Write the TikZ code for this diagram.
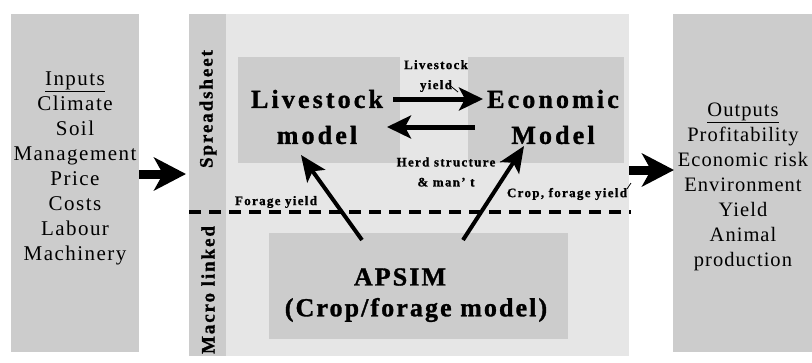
\documentclass[tikz,border=0pt]{standalone}
\usepackage{fontspec}
\setmainfont{Liberation Serif}
\newfontfamily\regsp[LetterSpace=7]{Liberation Serif}
\newfontfamily\regout[LetterSpace=5]{Liberation Serif}
\newfontfamily\boldsp[LetterSpace=12, FakeBold=1.2]{Liberation Serif Bold}
\newfontfamily\boldmid[LetterSpace=8, FakeBold=1.2]{Liberation Serif Bold}
\newfontfamily\boldsm[LetterSpace=10, FakeBold=1]{Liberation Serif Bold}
\usetikzlibrary{arrows.meta}
\definecolor{boxgray}{HTML}{CCCCCC}
\definecolor{panelgray}{HTML}{E6E6E6}
\tikzset{
  panel/.style={fill=panelgray, draw=none, inner sep=0pt, outer sep=0pt},
  greybox/.style={fill=boxgray, draw=none, inner sep=0pt, outer sep=0pt},
  listtext/.style={align=center, font=\regsp\fontsize{21}{25}\selectfont, inner sep=0pt},
  outtext/.style={align=center, font=\regout\fontsize{20.5}{25}\selectfont, inner sep=0pt},
  bigtext/.style={align=center, font=\boldsp\fontsize{26}{36}\selectfont, inner sep=0pt},
  apsimtext/.style={font=\boldmid\fontsize{26}{33}\selectfont, inner sep=0pt},
  smalltext/.style={align=center, font=\boldsm\fontsize{13}{20}\selectfont, inner sep=0pt},
  striptext/.style={font=\boldsm\fontsize{19}{22}\selectfont, inner sep=0pt, rotate=90},
  bigarrow/.style={line width=9pt, -{Stealth[length=32pt, width=33pt, inset=9pt]}},
  midarrow/.style={line width=5pt, -{Stealth[length=24pt, width=23pt, inset=6pt]}},
  diagarrow/.style={line width=4pt, -{Stealth[length=26pt, width=22pt, inset=6pt]}},
  leader/.style={line width=0.8pt},
}
\begin{document}
\begin{tikzpicture}[x=1pt, y=-1pt]
\useasboundingbox (0,0) rectangle (812,362);
\fill[white] (0,0) rectangle (812,362);
% side boxes
\node[greybox, minimum width=128pt, minimum height=338pt] (inbox) at (75,183) {};
\node[greybox, minimum width=139pt, minimum height=338pt] (outbox) at (742.5,183) {};
% middle panel
\node[panel, minimum width=440pt, minimum height=342pt] (mid) at (409,185) {};
\node[greybox, minimum width=37pt, minimum height=342pt] (strip) at (207.5,185) {};
% inner boxes
\node[greybox, minimum width=162pt, minimum height=106pt] (lbox) at (319,110) {};
\node[greybox, minimum width=156pt, minimum height=106pt] (ebox) at (546,110) {};
\node[greybox, minimum width=299pt, minimum height=106pt] (abox) at (418.5,286) {};
% strip text
\node[striptext] (ss) at (208,109) {Spreadsheet};
\node[striptext] (ml) at (208,290) {Macro linked};
% dashed separator
\coordinate (dl) at (189,212);
\coordinate (dr) at (631,212);
\draw[line width=4pt, dash pattern=on 12pt off 8pt] (dl) -- (dr);
% list texts
\node[listtext] (intext) at (75,168.5) {\underline{Inputs}\\Climate\\Soil\\Management\\Price\\Costs\\Labour\\Machinery};
\node[outtext] (outtext) at (743,187) {\underline{Outputs}\\Profitability\\Economic risk\\Environment\\Yield\\Animal\\production};
% model labels
\node[bigtext] (lt) at (317,117) {Livestock\\model};
\node[bigtext] (et) at (553,117) {Economic\\Model};
\node[apsimtext] (ap1) at (400,277) {APSIM};
\node[apsimtext] (ap2) at (416,310) {(Crop/forage model)};
% small labels
\node[smalltext] (ly) at (436,76) {Livestock\\yield};
\node[smalltext] (hs) at (446,172) {Herd structure\\\& man’ t};
\node[smalltext] (fy) at (276,202) {Forage yield};
\node[smalltext] (cy) at (567,194) {Crop, forage yield};
% connectors
\coordinate (inA) at (139,174);
\coordinate (inB) at (186,174);
\draw[bigarrow] (inA) -- (inB);
\coordinate (outA) at (629,170);
\coordinate (outB) at (674,170);
\draw[bigarrow] (outA) -- (outB);
\coordinate (l2eA) at (393,99);
\coordinate (l2eB) at (483,99);
\draw[midarrow] (l2eA) -- (l2eB);
\coordinate (e2lA) at (475,127);
\coordinate (e2lB) at (387,127);
\draw[midarrow] (e2lA) -- (e2lB);
\coordinate (fA) at (362,240);
\coordinate (fB) at (301,155);
\draw[diagarrow] (fA) -- (fB);
\coordinate (cA) at (463,240);
\coordinate (cB) at (524,146);
\draw[diagarrow] (cA) -- (cB);
% leader ticks
\coordinate (t1a) at (447,83);
\coordinate (t1b) at (458,92);
\draw[leader] (t1a) -- (t1b);
\coordinate (t2a) at (500,162);
\coordinate (t2b) at (513,159);
\draw[leader] (t2a) -- (t2b);
\coordinate (t3a) at (627,189);
\coordinate (t3b) at (631,183);
\draw[leader] (t3a) -- (t3b);
\end{tikzpicture}
\end{document}
